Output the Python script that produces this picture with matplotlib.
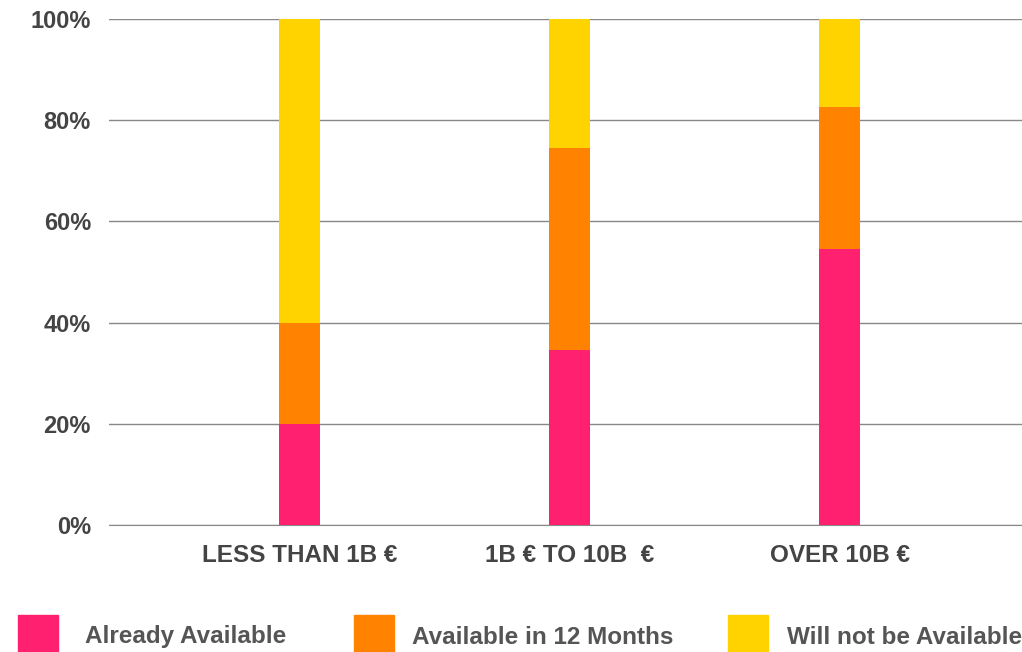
import numpy as np
import matplotlib.pyplot as plt
from matplotlib.patches import Rectangle

plt.rcParams['font.family'] = ['Liberation Sans', 'DejaVu Sans']

categories = ["LESS THAN 1B €", "1B € TO 10B  €", "OVER 10B €"]
already = [20.0, 34.6, 54.5]
in_12_months = [20.0, 40.0, 28.2]
not_available = [60.0, 25.4, 17.3]
series_names = ["Already Available", "Available in 12 Months", "Will not be Available"]
colors = ["#FF2070", "#FF8300", "#FFD300"]

W, H = 1022, 652
fig = plt.figure(figsize=(W / 100, H / 100), dpi=100)
ax = fig.add_axes([109 / W, 1 - 525 / H, 1 - 109 / W, (525 - 19) / H])

x = np.arange(len(categories))
bw = 0.152
bottom = np.zeros(len(categories))
for vals, c in zip([already, in_12_months, not_available], colors):
    ax.bar(x, vals, bw, bottom=bottom, color=c, zorder=3)
    bottom += np.array(vals)

ax.set_ylim(0, 100)
ax.set_xlim(-0.706, 2.676)
ax.set_yticks(range(0, 101, 20))
ax.set_yticklabels([f"{v}%" for v in range(0, 101, 20)], fontsize=17,
                   fontweight='bold', color='#444444')
ax.set_xticks(x)
ax.set_xticklabels(categories, fontsize=17.5, fontweight='bold', color='#444444')
ax.tick_params(length=0)
ax.tick_params(axis='y', pad=13)
ax.tick_params(axis='x', pad=14)
ax.grid(axis='y', color='#888888', linewidth=1, zorder=0)
for s in ['top', 'right', 'left']:
    ax.spines[s].set_visible(False)
ax.spines['bottom'].set_color('#888888')

# legend row along the bottom
sq_x = [18, 354, 728]
txt_x = [85, 412, 787]
for sx, tx, name, c in zip(sq_x, txt_x, series_names, colors):
    fig.add_artist(Rectangle((sx / W, 0), 40 / W, 37 / H, color=c,
                             transform=fig.transFigure))
    fig.text(tx / W, 1 - 637 / H, name, fontsize=17.5, fontweight='bold',
             color='#555555', va='center', ha='left')

fig.savefig("out.png", dpi=100)
